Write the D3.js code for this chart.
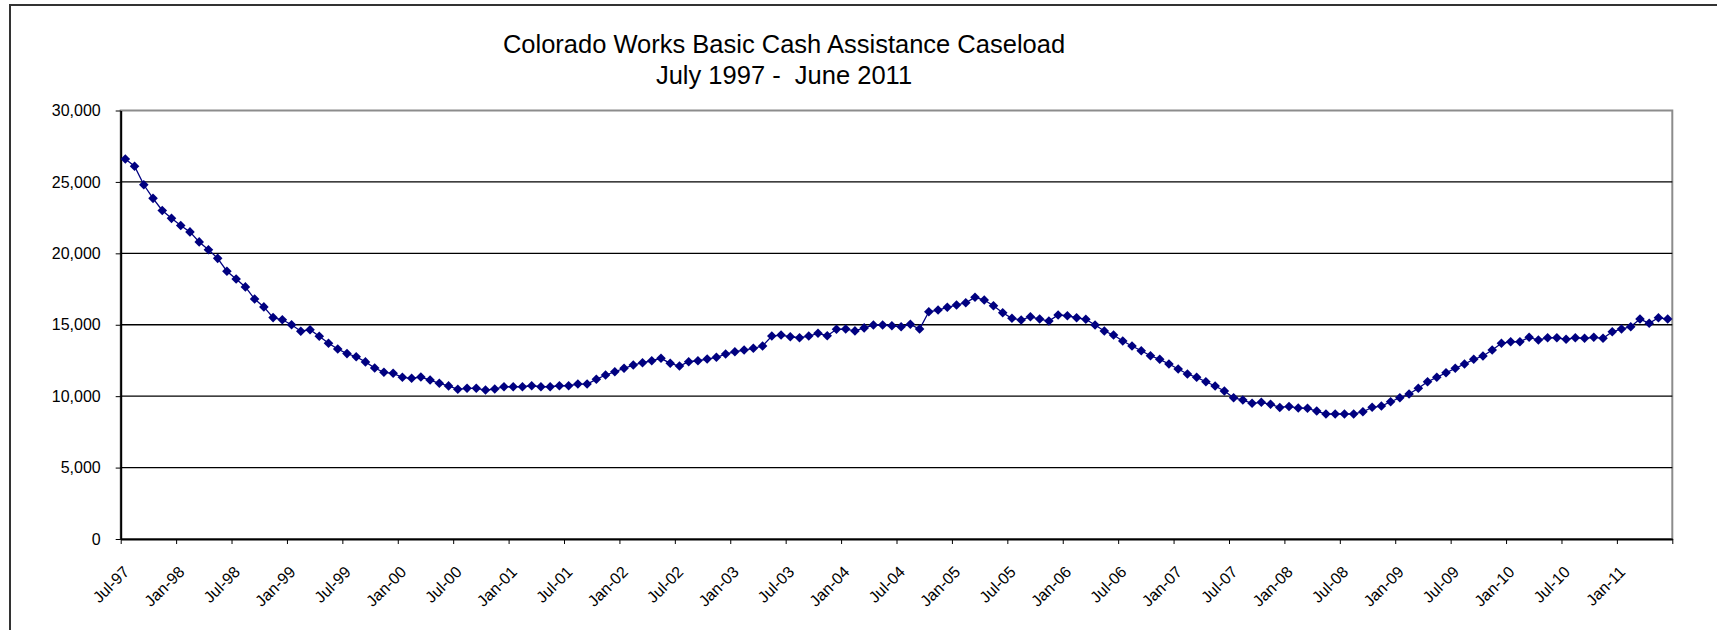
<!DOCTYPE html>
<html>
<head>
<meta charset="utf-8">
<script src="https://cdn.jsdelivr.net/npm/d3@7"></script>
<style>
  body { margin: 0; background: #fff; }
  svg text { font-family: "Liberation Sans", Arial, sans-serif; fill: #000; }
</style>
</head>
<body>
<svg id="chart" width="1717" height="630"></svg>
<script>
// ---------------- data ----------------
const titleLines = ["Colorado Works Basic Cash Assistance Caseload", "July 1997 -  June 2011"];

const tickLabels = ["Jul-97","Jan-98","Jul-98","Jan-99","Jul-99","Jan-00","Jul-00","Jan-01","Jul-01",
  "Jan-02","Jul-02","Jan-03","Jul-03","Jan-04","Jul-04","Jan-05","Jul-05","Jan-06","Jul-06",
  "Jan-07","Jul-07","Jan-08","Jul-08","Jan-09","Jul-09","Jan-10","Jul-10","Jan-11"];

const yTicks = [0, 5000, 10000, 15000, 20000, 25000, 30000];

// monthly caseload, Jul-97 .. Jun-11
const caseload = [
  26600,26100,24800,23850,23000,22450,21950,21500,20800,20250,19650,18750,
  18200,17650,16800,16250,15500,15350,15000,14550,14650,14200,13700,13300,
  12980,12760,12400,11970,11670,11600,11320,11250,11340,11130,10900,10720,
  10480,10550,10550,10430,10500,10660,10660,10660,10730,10660,10660,10730,
  10730,10850,10850,11180,11480,11710,11950,12180,12340,12480,12650,12300,
  12110,12410,12480,12600,12720,12950,13110,13230,13350,13510,14210,14280,
  14160,14090,14210,14400,14230,14680,14700,14570,14780,14980,14980,14930,
  14860,15030,14700,15910,16030,16220,16380,16540,16920,16730,16330,15840,
  15450,15330,15560,15400,15260,15680,15630,15490,15380,14980,14560,14280,
  13860,13510,13180,12830,12580,12250,11900,11550,11320,11010,10710,10360,
  9890,9730,9500,9570,9430,9210,9280,9170,9150,8960,8750,8750,
  8750,8750,8910,9220,9310,9610,9890,10150,10550,11010,11320,11640,
  11950,12250,12580,12810,13230,13700,13810,13810,14120,13930,14090,14090,
  13980,14090,14050,14120,14050,14510,14700,14860,15400,15100,15490,15400
];

// ---------------- layout ----------------
const svg = d3.select("#chart");
const plot = { left: 120.7, right: 1672.3, top: 110.5, bottom: 539 };
const navy = "#000080";
const fontStack = "'Liberation Sans', Arial, sans-serif";

// outer frame
svg.append("rect")
  .attr("x", 10).attr("y", 5).attr("width", 1800).attr("height", 800)
  .attr("fill", "#fff").attr("stroke", "#333").attr("stroke-width", 2);

// scales
const nMonths = caseload.length;
const x = d3.scaleLinear().domain([0, nMonths]).range([plot.left, plot.right]);
const y = d3.scaleLinear().domain([0, 30000]).range([plot.bottom, plot.top]);

// title
svg.append("text")
  .attr("x", 784).attr("y", 53)
  .attr("text-anchor", "middle").style("font-size", "25.5px")
  .text(titleLines[0]);
svg.append("text")
  .attr("x", 784).attr("y", 84)
  .attr("text-anchor", "middle").style("font-size", "25.5px")
  .style("white-space", "pre")
  .text(titleLines[1]);

// plot area border (gray)
svg.append("rect")
  .attr("x", plot.left).attr("y", plot.top)
  .attr("width", plot.right - plot.left).attr("height", plot.bottom - plot.top)
  .attr("fill", "none").attr("stroke", "#8c8c8c").attr("stroke-width", 2);

// gridlines
svg.append("g").selectAll("line")
  .data(yTicks.filter(v => v > 0 && v < 30000))
  .join("line")
  .attr("x1", plot.left).attr("x2", plot.right)
  .attr("y1", d => y(d)).attr("y2", d => y(d))
  .attr("stroke", "#000").attr("stroke-width", 1.3);

// y axis
const yAxis = svg.append("g")
  .attr("transform", `translate(${plot.left},0)`)
  .call(d3.axisLeft(y).tickValues(yTicks).tickFormat(d3.format(",")).tickSizeInner(5).tickSizeOuter(0).tickPadding(15));
yAxis.select(".domain").attr("stroke", "#000").attr("stroke-width", 2);
yAxis.selectAll(".tick line").attr("stroke", "#000").attr("stroke-width", 1);
yAxis.selectAll(".tick text").style("font-size", "16px").style("font-family", fontStack);

// x axis
const xTickVals = d3.range(0, nMonths + 1, 6);
const xAxis = svg.append("g")
  .attr("transform", `translate(0,${plot.bottom})`)
  .call(d3.axisBottom(x).tickValues(xTickVals)
    .tickFormat((d, i) => tickLabels[i] || "")
    .tickSizeInner(5).tickSizeOuter(0));
xAxis.select(".domain").attr("stroke", "#000").attr("stroke-width", 2);
xAxis.selectAll(".tick line").attr("stroke", "#000").attr("stroke-width", 1);
xAxis.selectAll(".tick text")
  .style("font-size", "16px").style("font-family", fontStack)
  .attr("text-anchor", "end")
  .attr("x", 0).attr("y", 0).attr("dy", 0)
  .attr("transform", "translate(9,34) rotate(-45)");

// line
const line = d3.line()
  .x((d, i) => x(i + 0.5))
  .y(d => y(d));
svg.append("path")
  .datum(caseload)
  .attr("d", line)
  .attr("fill", "none").attr("stroke", navy).attr("stroke-width", 1.3);

// diamond markers
const sym = d3.symbol(d3.symbolSquare, 46);
svg.append("g").selectAll("path")
  .data(caseload)
  .join("path")
  .attr("d", sym)
  .attr("transform", (d, i) => `translate(${x(i + 0.5)},${y(d)}) rotate(45)`)
  .attr("fill", navy);
</script>
</body>
</html>
